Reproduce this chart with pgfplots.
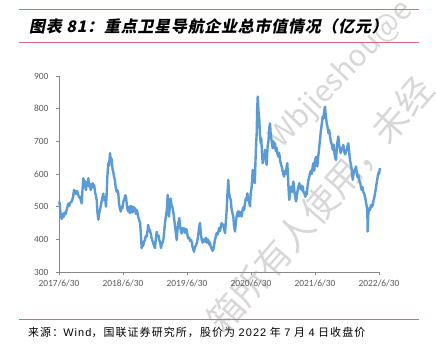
\documentclass[border=0pt]{standalone}
\usepackage{fontspec}
\usepackage{pgfplots}
\pgfplotsset{compat=1.18}
\setmainfont{Carlito}
\newfontfamily\cjk{Noto Sans CJK SC}
\newfontfamily\srcfont[LetterSpace=10]{Noto Sans CJK SC}
\newfontfamily\titlefont[FakeSlant=0.2,LetterSpace=5]{Noto Sans CJK SC}
\newfontfamily\lib[LetterSpace=10]{Liberation Sans}
\definecolor{lineblue}{RGB}{91,155,213}
\definecolor{axisgray}{RGB}{137,137,137}
\definecolor{labelgray}{RGB}{89,89,89}
\definecolor{rulered}{RGB}{224,100,130}
\definecolor{wmgray}{RGB}{215,215,215}
\begin{document}
\begin{tikzpicture}[x=1bp,y=1bp]
\useasboundingbox (0,0) rectangle (436,351);
% watermark
\node[rotate=49, text=wmgray, font=\cjk\fontsize{36}{36}\selectfont] at (320,146) {箱所有人使用，未经};
\node[rotate=46, text=wmgray, font=\cjk\fontsize{30}{30}\selectfont] at (342,276) {Wbjieshou@e};
% title and rules
\draw[rulered, line width=1bp] (19,341) -- (419,341);
\draw[rulered, line width=1bp] (19,309) -- (419,309);
\node[anchor=west, inner sep=0, font=\titlefont\bfseries\fontsize{16}{16}\selectfont] at (29,325) {图表 81：重点卫星导航企业总市值情况（亿元）};
\draw[rulered, line width=1bp] (19,31.3) -- (419,31.3);
\node[anchor=west, inner sep=0, font=\srcfont\fontsize{11}{11}\selectfont] at (28,18.5) {来源：{\lib Wind}，国联证券研究所，股价为 {\lib 2022} 年 {\lib 7} 月 {\lib 4} 日收盘价};
\begin{axis}[
  at={(59bp,79bp)}, anchor=south west, scale only axis,
  width=320bp, height=196bp,
  xmin=2017.5, xmax=2022.5, ymin=300, ymax=900,
  axis x line=bottom, axis y line=left,
  axis line style={-, draw=axisgray, line width=0.8bp},
  xtick={2017.5,2018.5,2019.5,2020.5,2021.5,2022.5},
  xticklabels={2017/6/30,2018/6/30,2019/6/30,2020/6/30,2021/6/30,2022/6/30},
  ytick={300,400,500,600,700,800,900},
  tick align=outside, major tick length=3bp,
  tick style={axisgray, line width=0.8bp},
  ticklabel style={font=\fontsize{9.5}{9.5}\selectfont, text=labelgray},
  yticklabel style={xshift=-4bp},
  xticklabel style={yshift=-1bp},
  /pgf/number format/assume math mode=true,
  /pgf/number format/1000 sep={},
  clip=false,
]
\addplot[color=lineblue, line width=2.4bp, line join=round] table {
x y
2017.505 516
2017.515 500
2017.525 478
2017.535 470
2017.542 462
2017.555 478
2017.570 468
2017.585 482
2017.600 476
2017.620 490
2017.632 500
2017.645 510
2017.660 502
2017.675 512
2017.698 516
2017.712 524
2017.724 536
2017.734 551
2017.748 538
2017.760 548
2017.775 540
2017.786 548
2017.800 536
2017.815 528
2017.828 530
2017.842 518
2017.855 510
2017.865 545
2017.880 587
2017.890 565
2017.900 580
2017.910 560
2017.922 551
2017.935 575
2017.948 568
2017.958 587
2017.970 562
2017.982 570
2017.995 551
2018.010 566
2018.027 572
2018.040 558
2018.050 566
2018.063 545
2018.075 535
2018.089 520
2018.100 485
2018.114 460
2018.128 480
2018.141 490
2018.155 505
2018.170 520
2018.180 530
2018.192 540
2018.205 520
2018.218 530
2018.234 500
2018.245 540
2018.255 590
2018.270 633
2018.282 625
2018.297 664
2018.310 640
2018.320 648
2018.339 612
2018.350 604
2018.360 592
2018.375 580
2018.385 560
2018.402 545
2018.415 550
2018.427 540
2018.440 505
2018.452 495
2018.464 485
2018.478 500
2018.490 495
2018.505 515
2018.520 522
2018.535 535
2018.547 530
2018.560 505
2018.570 492
2018.583 485
2018.598 500
2018.610 480
2018.622 502
2018.636 500
2018.650 482
2018.662 500
2018.675 488
2018.688 495
2018.700 478
2018.712 490
2018.723 485
2018.735 470
2018.750 462
2018.766 450
2018.778 420
2018.792 373
2018.805 392
2018.815 380
2018.828 393
2018.842 398
2018.855 410
2018.870 408
2018.882 425
2018.895 444
2018.905 425
2018.918 430
2018.933 418
2018.945 405
2018.960 395
2018.973 388
2018.985 380
2019.000 373
2019.012 400
2019.027 423
2019.040 410
2019.055 412
2019.067 398
2019.080 390
2019.094 373
2019.105 385
2019.118 390
2019.130 398
2019.142 420
2019.156 450
2019.170 470
2019.185 490
2019.198 536
2019.208 490
2019.219 470
2019.232 500
2019.245 525
2019.258 505
2019.270 500
2019.281 490
2019.295 470
2019.310 445
2019.325 420
2019.339 398
2019.352 430
2019.365 450
2019.380 465
2019.392 440
2019.405 425
2019.417 418
2019.430 435
2019.442 428
2019.453 434
2019.468 420
2019.482 432
2019.495 428
2019.508 412
2019.520 403
2019.535 405
2019.548 395
2019.560 398
2019.573 393
2019.585 378
2019.597 370
2019.609 362
2019.622 375
2019.637 380
2019.652 388
2019.665 400
2019.680 420
2019.692 440
2019.703 450
2019.715 420
2019.730 398
2019.745 390
2019.758 400
2019.770 395
2019.781 393
2019.795 405
2019.808 390
2019.820 400
2019.833 398
2019.845 385
2019.858 390
2019.870 378
2019.885 372
2019.898 365
2019.911 368
2019.925 385
2019.940 400
2019.952 410
2019.964 419
2019.976 415
2019.989 423
2020.003 435
2020.015 425
2020.030 440
2020.042 450
2020.055 440
2020.068 445
2020.080 430
2020.094 419
2020.105 450
2020.120 490
2020.132 540
2020.145 582
2020.155 545
2020.168 530
2020.183 521
2020.195 495
2020.210 480
2020.223 470
2020.235 440
2020.250 424
2020.262 450
2020.275 470
2020.287 480
2020.297 486
2020.310 470
2020.322 485
2020.335 478
2020.355 470
2020.368 490
2020.380 498
2020.393 490
2020.406 511
2020.418 525
2020.430 520
2020.442 541
2020.455 525
2020.470 515
2020.484 501
2020.495 540
2020.510 560
2020.520 590
2020.527 613
2020.540 585
2020.550 580
2020.559 572
2020.570 640
2020.580 690
2020.589 725
2020.597 800
2020.605 837
2020.618 790
2020.630 766
2020.640 720
2020.652 694
2020.660 710
2020.672 660
2020.683 633
2020.695 660
2020.707 650
2020.719 674
2020.732 640
2020.745 628
2020.758 680
2020.772 700
2020.785 740
2020.797 755
2020.808 720
2020.820 705
2020.829 690
2020.839 679
2020.850 700
2020.862 680
2020.875 694
2020.888 670
2020.900 680
2020.915 660
2020.927 653
2020.940 665
2020.955 640
2020.968 630
2020.980 623
2020.992 610
2021.004 600
2021.016 592
2021.030 610
2021.045 600
2021.056 620
2021.067 633
2021.078 590
2021.088 550
2021.098 521
2021.110 540
2021.122 560
2021.136 562
2021.148 545
2021.161 577
2021.172 560
2021.185 535
2021.195 525
2021.203 516
2021.215 530
2021.228 550
2021.240 560
2021.255 572
2021.268 555
2021.280 565
2021.295 550
2021.308 562
2021.320 545
2021.335 540
2021.350 530
2021.360 545
2021.370 537
2021.382 560
2021.395 580
2021.410 590
2021.422 603
2021.435 610
2021.450 600
2021.462 620
2021.473 633
2021.488 610
2021.500 640
2021.516 653
2021.526 630
2021.536 623
2021.548 650
2021.560 670
2021.570 690
2021.578 704
2021.590 730
2021.600 745
2021.610 760
2021.620 776
2021.632 770
2021.645 795
2021.656 806
2021.668 780
2021.683 755
2021.695 745
2021.710 725
2021.722 735
2021.734 715
2021.748 700
2021.762 690
2021.777 674
2021.790 690
2021.803 665
2021.815 650
2021.828 643
2021.840 680
2021.852 700
2021.864 715
2021.876 690
2021.890 675
2021.902 664
2021.915 680
2021.928 675
2021.942 689
2021.955 670
2021.970 660
2021.982 668
2021.995 674
2022.008 685
2022.020 694
2022.032 670
2022.047 643
2022.060 630
2022.075 610
2022.089 582
2022.102 600
2022.115 610
2022.128 615
2022.141 623
2022.152 605
2022.165 590
2022.177 597
2022.190 580
2022.205 575
2022.218 560
2022.230 551
2022.243 560
2022.255 545
2022.268 540
2022.281 531
2022.295 515
2022.308 500
2022.317 490
2022.323 424
2022.330 470
2022.340 490
2022.348 495
2022.360 490
2022.375 505
2022.390 500
2022.402 505
2022.415 520
2022.428 530
2022.438 541
2022.450 555
2022.465 575
2022.478 590
2022.489 603
2022.500 600
2022.508 610
2022.516 618
};
\end{axis}
\end{tikzpicture}
\end{document}
